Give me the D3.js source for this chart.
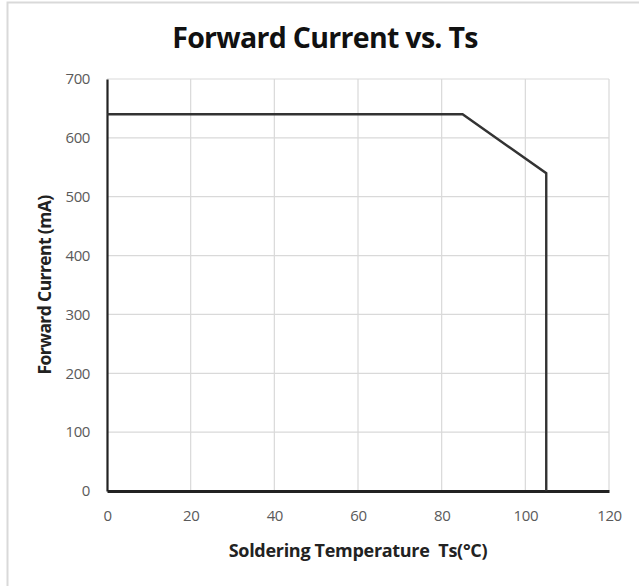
<!DOCTYPE html>
<html>
<head>
<meta charset="utf-8">
<script src="https://cdn.jsdelivr.net/npm/d3@7"></script>
<style>
  html, body { margin: 0; padding: 0; background: #fff; }
  svg { display: block; }
</style>
</head>
<body>
<script>
// Derating curve: forward current against soldering temperature
const temperature = [0, 85, 105, 105];
const current = [640, 640, 540, 0];
const xTicks = [0, 20, 40, 60, 80, 100, 120];
const yTicks = [0, 100, 200, 300, 400, 500, 600, 700];

const W = 639, H = 586;
const margin = { left: 107, right: 30, top: 79, bottom: 95 };
const font = "'Open Sans', Lato, sans-serif";

const svg = d3.select("body").append("svg")
  .attr("width", W).attr("height", H);

// chart frame (only top and left edges fall inside the page)
svg.append("rect")
  .attr("x", 7.5).attr("y", 2.5)
  .attr("width", W + 10).attr("height", H + 10)
  .attr("fill", "#fff").attr("stroke", "#d9d9d9").attr("stroke-width", 2);

const x = d3.scaleLinear().domain([0, 120]).range([margin.left, W - margin.right]);
const y = d3.scaleLinear().domain([0, 700]).range([H - margin.bottom, margin.top]);

// gridlines
svg.append("g").selectAll("line").data(yTicks.filter(d => d > 0)).join("line")
  .attr("x1", x(0)).attr("x2", x(120))
  .attr("y1", d => y(d)).attr("y2", d => y(d))
  .attr("stroke", "#d9d9d9").attr("stroke-width", 1.2);
svg.append("g").selectAll("line").data(xTicks.filter(d => d > 0)).join("line")
  .attr("x1", d => x(d)).attr("x2", d => x(d))
  .attr("y1", y(0)).attr("y2", y(700))
  .attr("stroke", "#d9d9d9").attr("stroke-width", 1.2);

// axes
const xAxis = svg.append("g").attr("transform", `translate(0,${y(0)})`)
  .call(d3.axisBottom(x).tickValues(xTicks).tickSize(0).tickPadding(19));
const yAxis = svg.append("g").attr("transform", `translate(${x(0)},0)`)
  .call(d3.axisLeft(y).tickValues(yTicks).tickSize(0).tickPadding(17));
[xAxis, yAxis].forEach(g => {
  g.selectAll("text")
    .attr("fill", "#5a5a5a")
    .style("font-family", font)
    .style("font-size", "15px")
    .style("letter-spacing", "-0.4px");
});
xAxis.select(".domain").attr("stroke", "#222").attr("stroke-width", 3);
yAxis.select(".domain").attr("stroke", "#222").attr("stroke-width", 2.2);

// data curve
const line = d3.line().x((d, i) => x(temperature[i])).y((d, i) => y(current[i]));
svg.append("path")
  .datum(temperature)
  .attr("d", line)
  .attr("fill", "none")
  .attr("stroke", "#333")
  .attr("stroke-width", 2.4)
  .attr("stroke-linejoin", "miter");

// titles
svg.append("text")
  .attr("x", 325).attr("y", 48)
  .attr("text-anchor", "middle")
  .style("font-family", font)
  .style("font-weight", "700")
  .style("font-size", "28.5px")
  .style("letter-spacing", "-0.7px")
  .attr("fill", "#111")
  .text("Forward Current vs. Ts");

svg.append("text")
  .attr("x", (x(0) + x(120)) / 2).attr("y", 557)
  .attr("text-anchor", "middle")
  .style("font-family", font)
  .style("font-weight", "700")
  .style("font-size", "18px")
  .style("letter-spacing", "-0.3px")
  .attr("fill", "#222")
  .attr("xml:space", "preserve")
  .text("Soldering Temperature  Ts(°C)");

svg.append("text")
  .attr("transform", `translate(51,${(y(0) + y(700)) / 2}) rotate(-90)`)
  .attr("text-anchor", "middle")
  .style("font-family", font)
  .style("font-weight", "700")
  .style("font-size", "17.5px")
  .style("letter-spacing", "-0.6px")
  .attr("fill", "#222")
  .text("Forward Current (mA)");
</script>
</body>
</html>
